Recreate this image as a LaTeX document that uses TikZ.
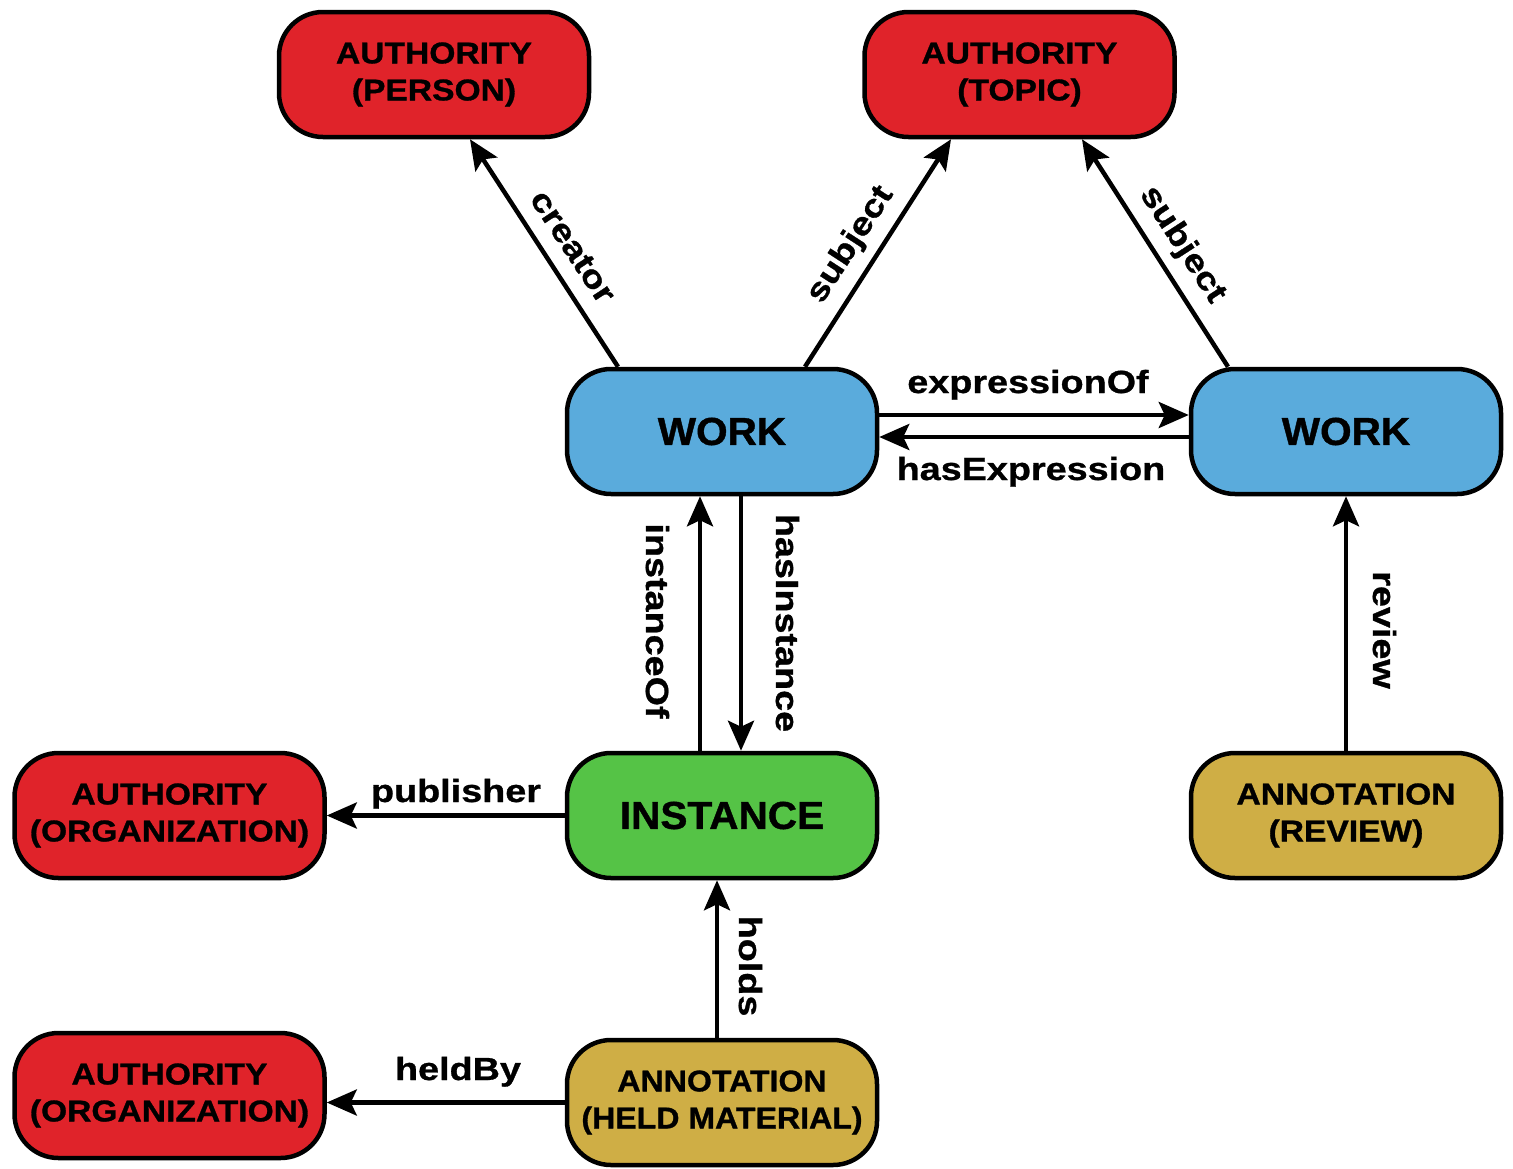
\documentclass[tikz,border=0pt]{standalone}
\usepackage{fontspec}
\usetikzlibrary{arrows.meta}
\newfontfamily\nodefnt{Liberation Sans Bold}[FakeStretch=1.12,FakeBold=1]
\newfontfamily\nodefntN{Liberation Sans Bold}[FakeStretch=1.07,FakeBold=1]
\newfontfamily\bigfnt{Liberation Sans Bold}[FakeStretch=1.04,FakeBold=1]
\newfontfamily\lblfnt{Liberation Sans Bold}[FakeStretch=1.18,FakeBold=0.9]
\definecolor{authred}{HTML}{E0232A}
\definecolor{workblue}{HTML}{5AABDC}
\definecolor{instgreen}{HTML}{55C346}
\definecolor{annotgold}{HTML}{CFAE45}
\tikzset{
  box/.style={draw=black, line width=4.5pt, rounded corners=44pt,
    minimum width=310pt, minimum height=125pt, inner sep=0pt, align=center,
    font=\nodefnt\fontsize{30}{37}\selectfont},
  auth/.style={box, fill=authred},
  work/.style={box, fill=workblue, font=\bigfnt\fontsize{39}{45}\selectfont},
  inst/.style={box, fill=instgreen, font=\bigfnt\fontsize{39}{45}\selectfont},
  annot/.style={box, fill=annotgold},
  lbl/.style={font=\lblfnt\fontsize{32}{36}\selectfont, inner sep=0pt,
    text height=23pt, text depth=7pt},
  arr/.style={line width=4.5pt, -{Stealth[length=30pt,width=26pt,inset=6pt]}}
}
\begin{document}
\begin{tikzpicture}[x=1pt,y=-1pt]
\useasboundingbox (0,0) rectangle (1513,1168);
% nodes
\node[auth]  (person) at (434,74.5)   {AUTHORITY\\(PERSON)};
\node[auth]  (topic)  at (1019.5,74.5) {AUTHORITY\\(TOPIC)};
\node[work]  (workL)  at (722,431.5)  {WORK};
\node[work]  (workR)  at (1346,431.5) {WORK};
\node[auth]  (org1)   at (169.5,815.5) {AUTHORITY\\(ORGANIZATION)};
\node[inst]  (inst)   at (722,815.5)  {INSTANCE};
\node[annot] (review) at (1346,815.5) {ANNOTATION\\(REVIEW)};
\node[auth]  (org2)   at (169.5,1095.5) {AUTHORITY\\(ORGANIZATION)};
\node[annot, font=\nodefntN\fontsize{30}{37}\selectfont] (held) at (722,1102.5) {ANNOTATION\\(HELD MATERIAL)};
% connectors
\draw[arr] ([xshift=-104pt]workL.north) -- ([xshift=36pt]person.south);
\draw[arr] ([xshift=83pt]workL.north) -- ([xshift=-68.5pt]topic.south);
\draw[arr] ([xshift=-118pt]workR.north) -- ([xshift=62.5pt]topic.south);
\draw[arr] ([yshift=16.5pt]workL.east) -- ([yshift=16.5pt]workR.west);
\draw[arr] ([yshift=-5.5pt]workR.west) -- ([yshift=-5.5pt]workL.east);
\draw[arr] ([xshift=-22pt]inst.north) -- ([xshift=-22pt]workL.south);
\draw[arr] ([xshift=19pt]workL.south) -- ([xshift=19pt]inst.north);
\draw[arr] (review.north) -- (workR.south);
\draw[arr] (inst.west) -- (inst.west -| org1.east);
\draw[arr] ([xshift=-5pt]held.north) -- ([xshift=-5pt]inst.south);
\draw[arr] (held.west) -- (held.west -| org2.east);
% labels
\node[lbl, rotate=-56.5] (lcreator) at (571,248) {creator};
\node[lbl, rotate=57] (lsubj1) at (851,245) {subject};
\node[lbl, rotate=-57] (lsubj2) at (1182,245) {subject};
\node[lbl, anchor=base] (lexpr) at (1028,393) {expressionOf};
\node[lbl, anchor=base] (lhasexpr) at (1031,480) {hasExpression};
\node[lbl, rotate=-90] (linstof) at (654,621) {instanceOf};
\node[lbl, rotate=-90] (lhasinst) at (784,623) {hasInstance};
\node[lbl, rotate=-90] (lreview) at (1381,630) {review};
\node[lbl, rotate=-90] (lholds) at (747,966) {holds};
\node[lbl, anchor=base] (lpub) at (456,802) {publisher};
\node[lbl, anchor=base] (lheld) at (458,1080) {heldBy};
\end{tikzpicture}
\end{document}
